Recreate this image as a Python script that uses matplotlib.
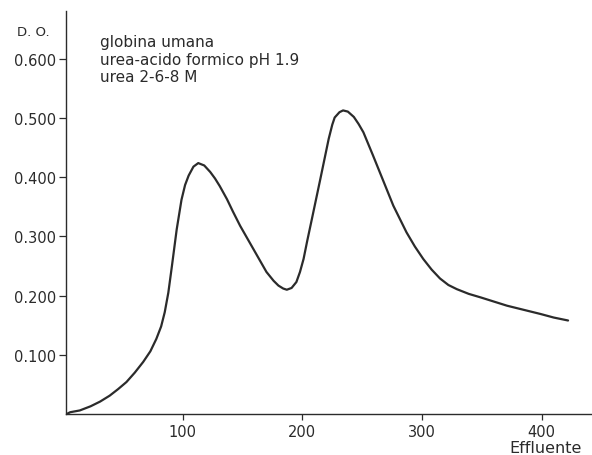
import matplotlib
matplotlib.use("Agg")
import matplotlib.pyplot as plt
from matplotlib.ticker import FormatStrFormatter

# elution profile
effluent = [3, 6, 14, 23, 31, 39, 46, 53, 60, 67, 73, 78, 82, 85, 88, 91,
            95, 99, 102, 105, 109, 113, 118, 123, 127, 131, 137, 142, 148,
            159, 170, 176, 180, 184, 187, 191, 195, 198, 201, 204, 208, 215,
            222, 225, 227, 231, 234, 238, 243, 247, 251, 259, 268, 276, 287,
            294, 301, 308, 315, 322, 329, 339, 349, 360, 371, 385, 399, 410,
            422]
optical_density = [0.0, 0.003, 0.006, 0.013, 0.021, 0.031, 0.042, 0.054,
                   0.070, 0.088, 0.106, 0.127, 0.148, 0.172, 0.205, 0.250,
                   0.312, 0.362, 0.387, 0.403, 0.418, 0.424, 0.420, 0.409,
                   0.398, 0.385, 0.363, 0.342, 0.318, 0.279, 0.240, 0.225,
                   0.217, 0.212, 0.210, 0.213, 0.223, 0.240, 0.262, 0.292,
                   0.330, 0.397, 0.465, 0.489, 0.501, 0.510, 0.513, 0.511,
                   0.502, 0.490, 0.476, 0.437, 0.392, 0.352, 0.307, 0.283,
                   0.262, 0.244, 0.229, 0.218, 0.211, 0.203, 0.197, 0.190,
                   0.183, 0.176, 0.169, 0.163, 0.158]

x_ticks = [100, 200, 300, 400]
y_ticks = [0.1, 0.2, 0.3, 0.4, 0.5, 0.6]
legend_lines = ["globina umana", "urea-acido formico pH 1.9", "urea 2-6-8 M"]

INK = "#2b2b2b"
W, H = 592, 456

fig = plt.figure(figsize=(W / 100, H / 100), dpi=100)
ax = fig.add_axes([66 / W, 41 / H, (W - 66) / W, 403 / H])

ax.plot(effluent, optical_density, color=INK, lw=1.6,
        solid_capstyle="round", solid_joinstyle="round")

ax.set_xlim(2.5, 442)
ax.set_ylim(0, 0.681)
ax.set_xticks(x_ticks)
ax.set_yticks(y_ticks)
ax.yaxis.set_major_formatter(FormatStrFormatter("%.3f"))

for side in ("top", "right"):
    ax.spines[side].set_visible(False)
for side in ("left", "bottom"):
    ax.spines[side].set_color(INK)
    ax.spines[side].set_linewidth(1.0)

ax.tick_params(axis="both", direction="out", length=5, width=0.9, color=INK,
               labelcolor=INK, labelsize=10.5)
ax.tick_params(axis="x", length=4, pad=3)
ax.tick_params(axis="y", pad=2)

fig.text(33 / W, 1 - 33 / H, "D. O.", ha="center", va="center",
         fontsize=9.5, color=INK)
for i, line in enumerate(legend_lines):
    fig.text(100 / W, 1 - (43 + 17.5 * i) / H, line, ha="left", va="center",
             fontsize=11, color=INK)
fig.text(582 / W, 1 - 449 / H, "Effluente", ha="right", va="center",
         fontsize=11.5, color=INK)

fig.savefig("out.png", dpi=100)
